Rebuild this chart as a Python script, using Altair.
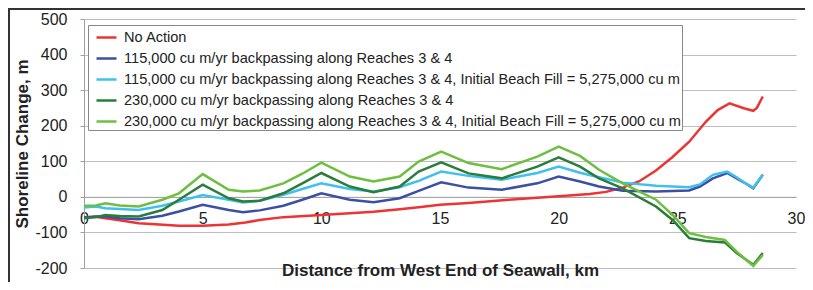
import altair as alt
import pandas as pd

SERIES = [
    "No Action",
    "115,000 cu m/yr backpassing along Reaches 3 & 4",
    "115,000 cu m/yr backpassing along Reaches 3 & 4, Initial Beach Fill = 5,275,000 cu m",
    "230,000 cu m/yr backpassing along Reaches 3 & 4",
    "230,000 cu m/yr backpassing along Reaches 3 & 4, Initial Beach Fill = 5,275,000 cu m",
]
COLORS = ["#ee3333", "#3c4fa3", "#3fc0ee", "#2a7d3a", "#6ebf40"]

km_red = [0, 0.5, 0.9, 1.5, 2.3, 3.0, 4.0, 5.0, 6.1, 6.8, 7.4, 8.4, 10.0, 11.2, 12.2,
          13.3, 14.1, 15.0, 16.2, 17.9, 20.0, 21.3, 22.0, 22.7, 23.4, 24.1, 24.8, 25.5,
          26.2, 26.7, 27.2, 27.8, 28.2, 28.35, 28.6]
val_red = [-58, -56, -60, -66, -74, -77, -81, -81, -78, -72, -65, -57, -51, -46, -42,
           -35, -29, -22, -17, -8, 2, 8, 14, 26, 44, 74, 112, 155,
           211, 244, 263, 249, 242, 250, 282]

km_b115 = [0, 0.5, 0.9, 1.5, 2.3, 3.3, 4.0, 5.0, 6.1, 6.7, 7.4, 8.4, 9.2, 10.0, 11.2,
           12.2, 13.3, 14.1, 15.05, 16.2, 17.6, 19.1, 20.0, 20.9, 21.7, 22.7, 24.1,
           25.5, 25.95, 26.5, 27.1, 27.5, 27.9, 28.2, 28.6]
val_b115 = [-58, -55, -55, -60, -63, -53, -41, -22, -37, -43, -38, -25, -8, 10, -8,
            -15, -4, 17, 41, 26, 20, 38, 57, 43, 29, 17, 15,
            18, 29, 52, 67, 52, 37, 24, 62]

km_lb115 = [0, 0.5, 0.9, 1.5, 2.3, 3.3, 4.0, 5.0, 6.1, 6.7, 7.4, 8.4, 9.2, 10.0, 11.2,
            12.2, 13.3, 14.1, 15.05, 16.2, 17.6, 19.1, 20.0, 20.9, 21.7, 22.7, 24.1,
            25.5, 25.95, 26.5, 27.1, 27.5, 27.9, 28.2, 28.6]
val_lb115 = [-30, -27, -32, -34, -37, -25, -13, 5, -8, -16, -11, 6, 22, 38, 22,
             15, 27, 45, 71, 59, 48, 67, 85, 68, 55, 40, 31,
             27, 35, 62, 71, 55, 37, 26, 62]

km_g230 = [0, 0.5, 0.9, 1.5, 2.3, 3.3, 4.0, 5.0, 6.1, 6.7, 7.4, 8.4, 9.2, 10.0, 11.2,
           12.2, 13.3, 14.1, 15.05, 16.2, 17.6, 19.1, 20.0, 20.9, 21.7, 22.7, 24.1,
           24.8, 25.5, 26.2, 27.0, 27.5, 28.2, 28.6]
val_g230 = [-60, -57, -51, -54, -55, -37, -8, 34, -4, -13, -11, 10, 38, 67, 29,
            13, 29, 71, 97, 66, 52, 85, 111, 85, 52, 24, -27,
            -65, -116, -124, -128, -158, -191, -158]

km_lg230 = [0, 0.5, 0.9, 1.5, 2.3, 3.3, 4.0, 5.0, 6.1, 6.7, 7.4, 8.4, 9.2, 10.0, 11.2,
            12.2, 13.3, 14.1, 15.05, 16.2, 17.6, 19.1, 20.0, 20.9, 21.7, 22.7, 24.1,
            24.8, 25.5, 26.2, 27.0, 27.5, 28.2, 28.6]
val_lg230 = [-25, -24, -18, -24, -27, -8, 10, 64, 20, 15, 18, 38, 65, 96, 57,
             43, 57, 99, 127, 95, 78, 113, 141, 115, 76, 38, -8,
             -51, -102, -113, -121, -154, -194, -163]

X_TICKS = [0, 5, 10, 15, 20, 25, 30]
Y_TICKS = [-200, -100, 0, 100, 200, 300, 400, 500]

KMS = [km_red, km_b115, km_lb115, km_g230, km_lg230]
VALS = [val_red, val_b115, val_lb115, val_g230, val_lg230]

rows = []
for name, kms, vals in zip(SERIES, KMS, VALS):
    for k, v in zip(kms, vals):
        rows.append({"series": name, "km": k, "value": v})
df = pd.DataFrame(rows)

W, H = 712, 249
Y_MIN, Y_MAX = -200, 500
zero_offset = -H * (0 - Y_MIN) / (Y_MAX - Y_MIN)
TEXT = "#222222"

lines = alt.Chart(df).mark_line(strokeWidth=2.5).encode(
    x=alt.X(
        "km:Q",
        scale=alt.Scale(domain=[0, 30], nice=False),
        axis=alt.Axis(
            values=X_TICKS, labelExpr="'' + datum.value",
            title="Distance from West End of Seawall, km",
            offset=zero_offset, grid=False, ticks=False, labelPadding=14,
            labelFlush=False, labelOverlap=False,
            labelFontSize=16, labelColor=TEXT, domainColor="#a0a0a0",
            titleFontSize=17, titleFontWeight="bold", titleColor=TEXT,
            titleY=79, titleBaseline="alphabetic",
        ),
    ),
    y=alt.Y(
        "value:Q",
        scale=alt.Scale(domain=[Y_MIN, Y_MAX], nice=False),
        axis=alt.Axis(
            values=Y_TICKS, labelExpr="'' + datum.value",
            title="Shoreline Change, m",
            grid=True, gridColor="#bdbdbd", domainColor="#a0a0a0",
            tickColor="#a0a0a0", tickSize=4, labelPadding=13,
            labelFontSize=16, labelColor=TEXT, labelFlush=False,
            titleFontSize=17, titleFontWeight="bold", titleColor=TEXT,
            titlePadding=3,
        ),
    ),
    color=alt.Color(
        "series:N",
        scale=alt.Scale(domain=SERIES, range=COLORS),
        legend=alt.Legend(
            title=None, orient="none", legendX=4, legendY=6,
            fillColor="white", strokeColor="#888888", padding=1,
            symbolType="stroke", symbolSize=400, symbolStrokeWidth=2.5,
            symbolOffset=6,
            labelFontSize=14.6, labelColor=TEXT, labelLimit=900,
            rowPadding=2, labelOffset=6,
        ),
    ),
)

border_top = alt.Chart(alt.Data(values=[{"a": 1}])).mark_rule(
    color="#333333", strokeWidth=2
).encode(x=alt.value(-76), x2=alt.value(W + 9), y=alt.value(-10))

border_left = alt.Chart(alt.Data(values=[{"a": 1}])).mark_rule(
    color="#333333", strokeWidth=2
).encode(x=alt.value(-75), y=alt.value(-11), y2=alt.value(H + 14))

chart = alt.layer(lines, border_top, border_left).properties(
    width=W, height=H,
    padding={"left": 76, "top": 11, "right": 9, "bottom": 14},
    autosize=alt.AutoSizeParams(type="none"),
).configure(font="Liberation Sans").configure_view(stroke="transparent")

chart.save("out.html", embed_options={"renderer": "svg", "actions": False})
